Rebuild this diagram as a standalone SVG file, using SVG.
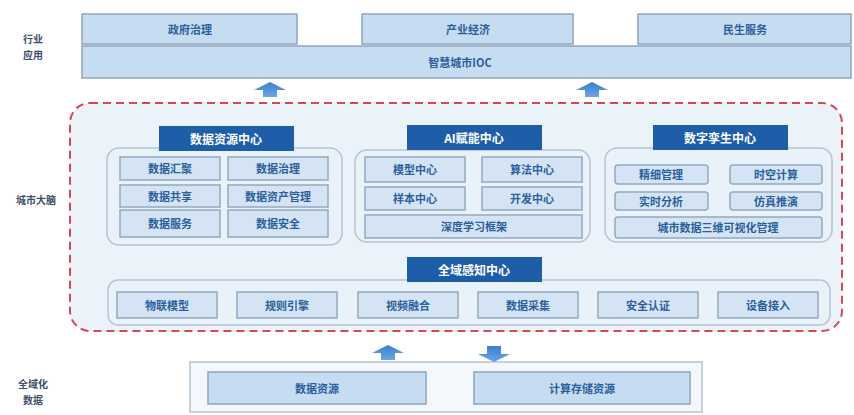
<svg xmlns="http://www.w3.org/2000/svg" width="854" height="415" viewBox="0 0 854 415">
<defs>
<linearGradient id="arr" x1="0" y1="0" x2="0" y2="1"><stop offset="0" stop-color="#3b7fd0"/><stop offset="1" stop-color="#6aa6e4"/></linearGradient>
<style>
.box{fill:#c6dcf1;stroke:#8ea4bc;stroke-width:1.5}
.item{fill:#d4e4f4;stroke:#93a8c0;stroke-width:1.5}
.panel{fill:#e9f1f9;stroke:#b7c3d1;stroke-width:1.5}
.title{fill:#1e5ea8}
.t{font-family:"Noto Sans CJK SC","Liberation Sans",sans-serif;font-size:11px;fill:#2b5f9c;text-anchor:middle;dominant-baseline:central;font-weight:bold}
.tw{font-family:"Noto Sans CJK SC","Liberation Sans",sans-serif;font-size:12px;fill:#ffffff;text-anchor:middle;dominant-baseline:central;font-weight:bold}
.lbl{font-family:"Noto Sans CJK SC","Liberation Sans",sans-serif;font-size:10px;fill:#3d4f66;text-anchor:middle;dominant-baseline:central;font-weight:bold}
.arrow{fill:url(#arr)}
</style>
</defs>
<rect width="854" height="415" fill="#ffffff"/>

<g id="labels">
<text class="lbl" x="33" y="38">行业</text>
<text class="lbl" x="33" y="54">应用</text>
<text class="lbl" x="36" y="199">城市大脑</text>
<text class="lbl" x="33" y="383">全域化</text>
<text class="lbl" x="33" y="399">数据</text>
</g>

<g id="app-layer">
<g id="n-gov"><rect class="box" x="82" y="14" width="215" height="30"/><text class="t" x="190" y="29">政府治理</text></g>
<g id="n-ind"><rect class="box" x="362" y="14" width="211" height="30"/><text class="t" x="468" y="29">产业经济</text></g>
<g id="n-life"><rect class="box" x="638" y="14" width="213" height="30"/><text class="t" x="745" y="29">民生服务</text></g>
<g id="n-ioc"><rect class="box" x="82" y="46" width="769" height="32"/><text class="t" x="460" y="62">智慧城市IOC</text></g>
</g>

<g id="brain">
<rect x="70" y="103" width="772" height="228" rx="20" fill="#eaf2fa" stroke="#d9474c" stroke-width="2" stroke-dasharray="8,5"/>

<g id="n-data">
<rect class="panel" x="107" y="148" width="235" height="97" rx="12"/>
<rect class="title" x="159" y="126" width="135" height="25"/>
<text class="tw" x="226" y="138">数据资源中心</text>
<rect class="item" x="120" y="157" width="100" height="23"/><text class="t" x="170" y="168">数据汇聚</text>
<rect class="item" x="228" y="157" width="100" height="23"/><text class="t" x="278" y="168">数据治理</text>
<rect class="item" x="120" y="185" width="100" height="22"/><text class="t" x="170" y="196">数据共享</text>
<rect class="item" x="228" y="185" width="100" height="22"/><text class="t" x="278" y="196">数据资产管理</text>
<rect class="item" x="120" y="210" width="100" height="27"/><text class="t" x="170" y="223">数据服务</text>
<rect class="item" x="228" y="210" width="100" height="27"/><text class="t" x="278" y="223">数据安全</text>
</g>

<g id="n-ai">
<rect class="panel" x="355" y="150" width="235" height="92" rx="12"/>
<rect class="title" x="407" y="125" width="135" height="25"/>
<text class="tw" x="474" y="137">AI赋能中心</text>
<rect class="item" x="365" y="157" width="100" height="25"/><text class="t" x="415" y="169">模型中心</text>
<rect class="item" x="482" y="157" width="100" height="25"/><text class="t" x="532" y="169">算法中心</text>
<rect class="item" x="365" y="187" width="100" height="23"/><text class="t" x="415" y="198">样本中心</text>
<rect class="item" x="482" y="187" width="100" height="23"/><text class="t" x="532" y="198">开发中心</text>
<rect class="item" x="365" y="215" width="217" height="23"/><text class="t" x="474" y="226">深度学习框架</text>
</g>

<g id="n-twin">
<rect class="panel" x="605" y="148" width="227" height="94" rx="12"/>
<rect class="title" x="653" y="125" width="135" height="25"/>
<text class="tw" x="720" y="137">数字孪生中心</text>
<rect class="item" x="615" y="165" width="93" height="19" rx="3"/><text class="t" x="661" y="174">精细管理</text>
<rect class="item" x="730" y="165" width="92" height="19" rx="3"/><text class="t" x="776" y="174">时空计算</text>
<rect class="item" x="615" y="192" width="93" height="18" rx="3"/><text class="t" x="661" y="201">实时分析</text>
<rect class="item" x="730" y="192" width="92" height="18" rx="3"/><text class="t" x="776" y="201">仿真推演</text>
<rect class="item" x="615" y="217" width="207" height="21" rx="3"/><text class="t" x="718" y="227">城市数据三维可视化管理</text>
</g>

<g id="n-sense">
<rect class="panel" x="108" y="280" width="722" height="45" rx="10"/>
<rect class="title" x="407" y="257" width="135" height="25"/>
<text class="tw" x="474" y="269">全域感知中心</text>
<rect class="item" x="117" y="292" width="100" height="26"/><text class="t" x="167" y="305">物联模型</text>
<rect class="item" x="237" y="292" width="100" height="26"/><text class="t" x="287" y="305">规则引擎</text>
<rect class="item" x="358" y="292" width="100" height="26"/><text class="t" x="408" y="305">视频融合</text>
<rect class="item" x="478" y="292" width="100" height="26"/><text class="t" x="528" y="305">数据采集</text>
<rect class="item" x="598" y="292" width="100" height="26"/><text class="t" x="648" y="305">安全认证</text>
<rect class="item" x="718" y="292" width="100" height="26"/><text class="t" x="768" y="305">设备接入</text>
</g>
</g>

<g id="resource">
<rect x="190" y="362" width="512" height="50" fill="#f4f7fb" stroke="#b7c3d1" stroke-width="1.5"/>
<g id="n-res1"><rect class="box" x="208" y="372" width="218" height="32"/><text class="t" x="317" y="388">数据资源</text></g>
<g id="n-res2"><rect class="box" x="474" y="372" width="216" height="32"/><text class="t" x="582" y="388">计算存储资源</text></g>
</g>

<g id="connectors">
<path class="arrow" d="M270 82 L286 90 L277 90 L277 97 L263 97 L263 90 L254 90 Z"/>
<path class="arrow" d="M592 82 L608 90 L599 90 L599 97 L585 97 L585 90 L576 90 Z"/>
<path class="arrow" d="M388 345 L404 353 L395 353 L395 360 L381 360 L381 353 L372 353 Z"/>
<path class="arrow" d="M494 362 L510 354 L501 354 L501 346 L487 346 L487 354 L478 354 Z"/>
</g>
</svg>
